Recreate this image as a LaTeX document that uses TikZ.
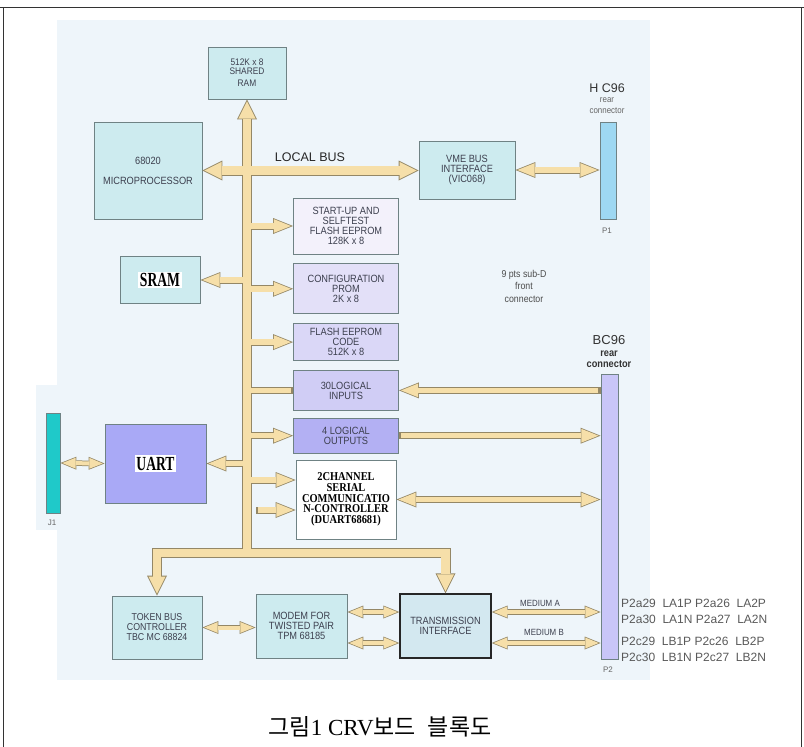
\documentclass[tikz,border=0pt]{standalone}
\usepackage{fontspec}
\setmainfont{Liberation Serif}
\setsansfont{Liberation Sans}
\newfontfamily\boxsans[FakeStretch=0.88]{Liberation Sans}
\newfontfamily\narrowserif[FakeStretch=0.68]{Liberation Serif}
\newfontfamily\duartserif[FakeStretch=0.87]{Liberation Serif}
\newfontfamily\krfont{Noto Sans CJK KR}
\usetikzlibrary{arrows.meta, positioning}

\definecolor{crvPanel}{HTML}{EEF5FA}
\definecolor{crvCyan}{HTML}{CDEBEF}
\definecolor{crvEdge}{HTML}{6F8284}
\definecolor{crvText}{HTML}{3C3F4E}
\definecolor{crvBus}{HTML}{F6DFA9}
\definecolor{crvBusEdge}{HTML}{948766}
\definecolor{crvLavA}{HTML}{F3F1FB}
\definecolor{crvLavB}{HTML}{E3E0F8}
\definecolor{crvLavC}{HTML}{DAD7F7}
\definecolor{crvLavD}{HTML}{D0CDF5}
\definecolor{crvLavE}{HTML}{B3B0F3}
\definecolor{crvUart}{HTML}{A9A9F6}
\definecolor{crvPtwo}{HTML}{C9C6F8}
\definecolor{crvPone}{HTML}{9ED8F2}
\definecolor{crvJone}{HTML}{1FC9C9}
\definecolor{crvTrans}{HTML}{D3E8F0}
\setlength{\fboxsep}{1.5pt}

% every bus arrow is drawn twice: edge colour first, then the fill on top
\newcommand\busnet[1]{%
  \draw[big#1, ->] (bj) -- (bus |- ram.south);
  \draw[big#1, <->] (token.north) |- (bj) -| (trans.north);
  \draw[big#1, <->] (micro.east) -- (vme.west |- micro.east);
  \foreach \blk in {startup, config, flash, outputs}
    \draw[thin#1, ->] (bus |- \blk.west) -- (\blk.west);
  \draw[thin#1] (bus |- inputs.west) -- (inputs.west);
  \draw[thin#1, ->] (bus |- du1) -- (duart.west |- du1);
  \draw[thin#1, ->] (du2) -- (duart.west |- du2);
  \foreach \blk in {sram, uart}
    \draw[thin#1, ->] (bus |- \blk.east) -- (\blk.east);
  \draw[thin#1, <->] (vme.east) -- (p1.west |- vme.east);
  \draw[thin#1, ->] (p2.west |- inputs.east) -- (inputs.east);
  \draw[thin#1, ->] (outputs.east) -- (p2.west |- outputs.east);
  \draw[thin#1, <->] (duart.east) -- (p2.west |- duart.east);
  \draw[small#1, <->] (j1.east) -- (uart.west);
  \draw[small#1, <->] (token.east) -- (modem.west |- token.east);
  \foreach \row in {ma, mb} {
    \draw[small#1, <->] (modem.east |- \row) -- (trans.west |- \row);
    \draw[small#1, <->] (trans.east |- \row) -- (p2.west |- \row);
  }
}

\begin{document}
\begin{tikzpicture}[x=1pt, y=-1pt,
  blk/.style={draw=crvEdge, line width=0.8pt, align=center, inner sep=1pt,
    font=\boxsans\fontsize{10.5}{10}\selectfont, text=crvText},
  cyanblk/.style={blk, fill=crvCyan},
  lavblk/.style={blk, minimum width=105pt},
  tag/.style={font=\sffamily\fontsize{8}{9}\selectfont, text=black!60, inner sep=1pt},
  pinrow/.style={anchor=west, inner sep=0pt, font=\sffamily\fontsize{12}{12}\selectfont, text=black!65},
  bigout/.style={draw=crvBusEdge, line width=10pt,
    >={Triangle[width=20pt, length=20pt, line width=0pt]}},
  bigin/.style={draw=crvBus, line width=8.2pt, shorten >=2pt, shorten <=2pt,
    >={Triangle[width=17.1pt, length=17.1pt, line width=0pt]}},
  thinout/.style={draw=crvBusEdge, line width=7pt,
    >={Triangle[width=16pt, length=20pt, line width=0pt]}},
  thinin/.style={draw=crvBus, line width=5.4pt, shorten >=2.15pt, shorten <=2.15pt,
    >={Triangle[width=13.6pt, length=17pt, line width=0pt]}},
  smallout/.style={draw=crvBusEdge, line width=5.5pt,
    >={Triangle[width=13pt, length=16pt, line width=0pt]}},
  smallin/.style={draw=crvBus, line width=4pt, shorten >=2pt, shorten <=2pt,
    >={Triangle[width=10.8pt, length=13.2pt, line width=0pt]}}]

  \useasboundingbox (0,0) rectangle (804,747);
  \fill[crvPanel] (57,20) rectangle (650,680);
  \fill[crvPanel] (36,385) rectangle (57,530);
  \draw[line width=0.8pt, black!80] (0,7) -- (804,7) (3,7) -- (3,747) (801,7) -- (801,747);

  % blocks
  \node[cyanblk, minimum width=78pt, minimum height=52pt, font=\boxsans\fontsize{9.5}{9}\selectfont] (ram) at (247,73) {512K x 8\\SHARED\\[3pt]RAM};
  \node[cyanblk, minimum width=108pt, minimum height=97pt] (micro) at (148,170.5) {68020\\[10pt]MICROPROCESSOR};
  \node[cyanblk, minimum width=96pt, minimum height=58pt] (vme) at (467,170) {VME BUS\\INTERFACE\\(VIC068)};
  \node[blk, fill=crvPone, minimum width=16pt, minimum height=97pt] (p1) at (608,170.5) {};
  \node[cyanblk, minimum width=80pt, minimum height=47pt, text=black,
    font=\narrowserif\bfseries\fontsize{20}{20}\selectfont] (sram) at (160,280) {\colorbox{white}{SRAM}};

  \node[lavblk, fill=crvLavA, minimum height=56pt] (startup) at (346,226) {START-UP AND\\SELFTEST\\FLASH EEPROM\\128K x 8};
  \node[lavblk, fill=crvLavB, minimum height=50pt, below=9pt of startup] (config) {CONFIGURATION\\PROM\\2K x 8};
  \node[lavblk, fill=crvLavC, minimum height=37pt, below=9pt of config] (flash) {FLASH EEPROM\\CODE\\512K x 8};
  \node[lavblk, fill=crvLavD, minimum height=40pt, below=9pt of flash] (inputs) {30LOGICAL\\INPUTS};
  \node[lavblk, fill=crvLavE, minimum height=35pt, below=7pt of inputs] (outputs) {4 LOGICAL\\OUTPUTS};
  \node[blk, fill=white, minimum width=100pt, minimum height=79pt, below=6pt of outputs, text=black,
    font=\duartserif\bfseries\fontsize{12}{10.7}\selectfont] (duart) {2CHANNEL\\SERIAL\\COMMUNICATIO\\N-CONTROLLER\\(DUART68681)};

  \node[blk, fill=crvUart, minimum width=101pt, minimum height=79pt, text=black,
    font=\narrowserif\bfseries\fontsize{20}{20}\selectfont] (uart) at (155.5,463.5) {\colorbox{white}{UART}};
  \node[blk, fill=crvJone, minimum width=14pt, minimum height=100pt] (j1) at (53,463) {};
  \node[blk, fill=crvPtwo, minimum width=17pt, minimum height=285pt] (p2) at (609.5,516.5) {};

  \node[cyanblk, minimum width=90pt, minimum height=63pt, font=\boxsans\fontsize{10}{10}\selectfont] (token) at (157,627.5) {TOKEN BUS\\CONTROLLER\\TBC MC 68824};
  \node[cyanblk, minimum width=91pt, minimum height=64pt] (modem) at (301.5,626) {MODEM FOR\\TWISTED PAIR\\TPM 68185};
  \node[blk, fill=crvTrans, draw=black!85, line width=1.3pt, minimum width=91pt, minimum height=64pt] (trans) at (445.5,626) {TRANSMISSION\\INTERFACE};

  % bus points
  \coordinate (bus) at (247,0);
  \coordinate (bj) at (247,553);
  \coordinate (du1) at (0,480);
  \coordinate (du2) at (256,510);
  \coordinate (ma) at (0,612);
  \coordinate (mb) at (0,643);

  \busnet{out}
  \busnet{in}

  % labels
  \node[font=\sffamily\fontsize{12.5}{13}\selectfont, text=black!85] (lbus) at (310,157) {LOCAL BUS};
  \node[font=\sffamily\fontsize{12.5}{12}\selectfont, text=black!80] (hlabel) at (607,88) {H C96};
  \node[tag, align=center, font=\boxsans\fontsize{9}{11}\selectfont] (hrear) at (607,106) {rear\\connector};
  \node[tag] (p1tag) at (607,231) {P1};
  \node[align=center, font=\boxsans\fontsize{10}{12.5}\selectfont, text=black!70] (subd) at (524,286) {9 pts sub-D\\front\\connector};
  \node[font=\sffamily\fontsize{13}{13}\selectfont, text=black!80] (bclabel) at (609,340) {BC96};
  \node[align=center, font=\boxsans\bfseries\fontsize{10.5}{11}\selectfont, text=black!80] (bcrear) at (609,359) {rear\\connector};
  \node[tag] (p2tag) at (608,670) {P2};
  \node[tag] (j1tag) at (52,523) {J1};
  \node[font=\boxsans\fontsize{9}{9}\selectfont, text=crvText] (meda) at (540,603) {MEDIUM A};
  \node[font=\boxsans\fontsize{9}{9}\selectfont, text=crvText] (medb) at (544,632) {MEDIUM B};

  \node[pinrow] (pina) at (621,603) {P2a29~~LA1P P2a26~~LA2P};
  \node[pinrow] (pinb) at (621,619) {P2a30~~LA1N P2a27~~LA2N};
  \node[pinrow] (pinc) at (621,641) {P2c29~~LB1P P2c26~~LB2P};
  \node[pinrow] (pind) at (621,657) {P2c30~~LB1N P2c27~~LB2N};

  \node[font=\fontsize{23}{23}\selectfont] (caption) at (380,727) {{\krfont 그림}1 CRV{\krfont 보드\hspace{12pt}블록도}};
\end{tikzpicture}
\end{document}
